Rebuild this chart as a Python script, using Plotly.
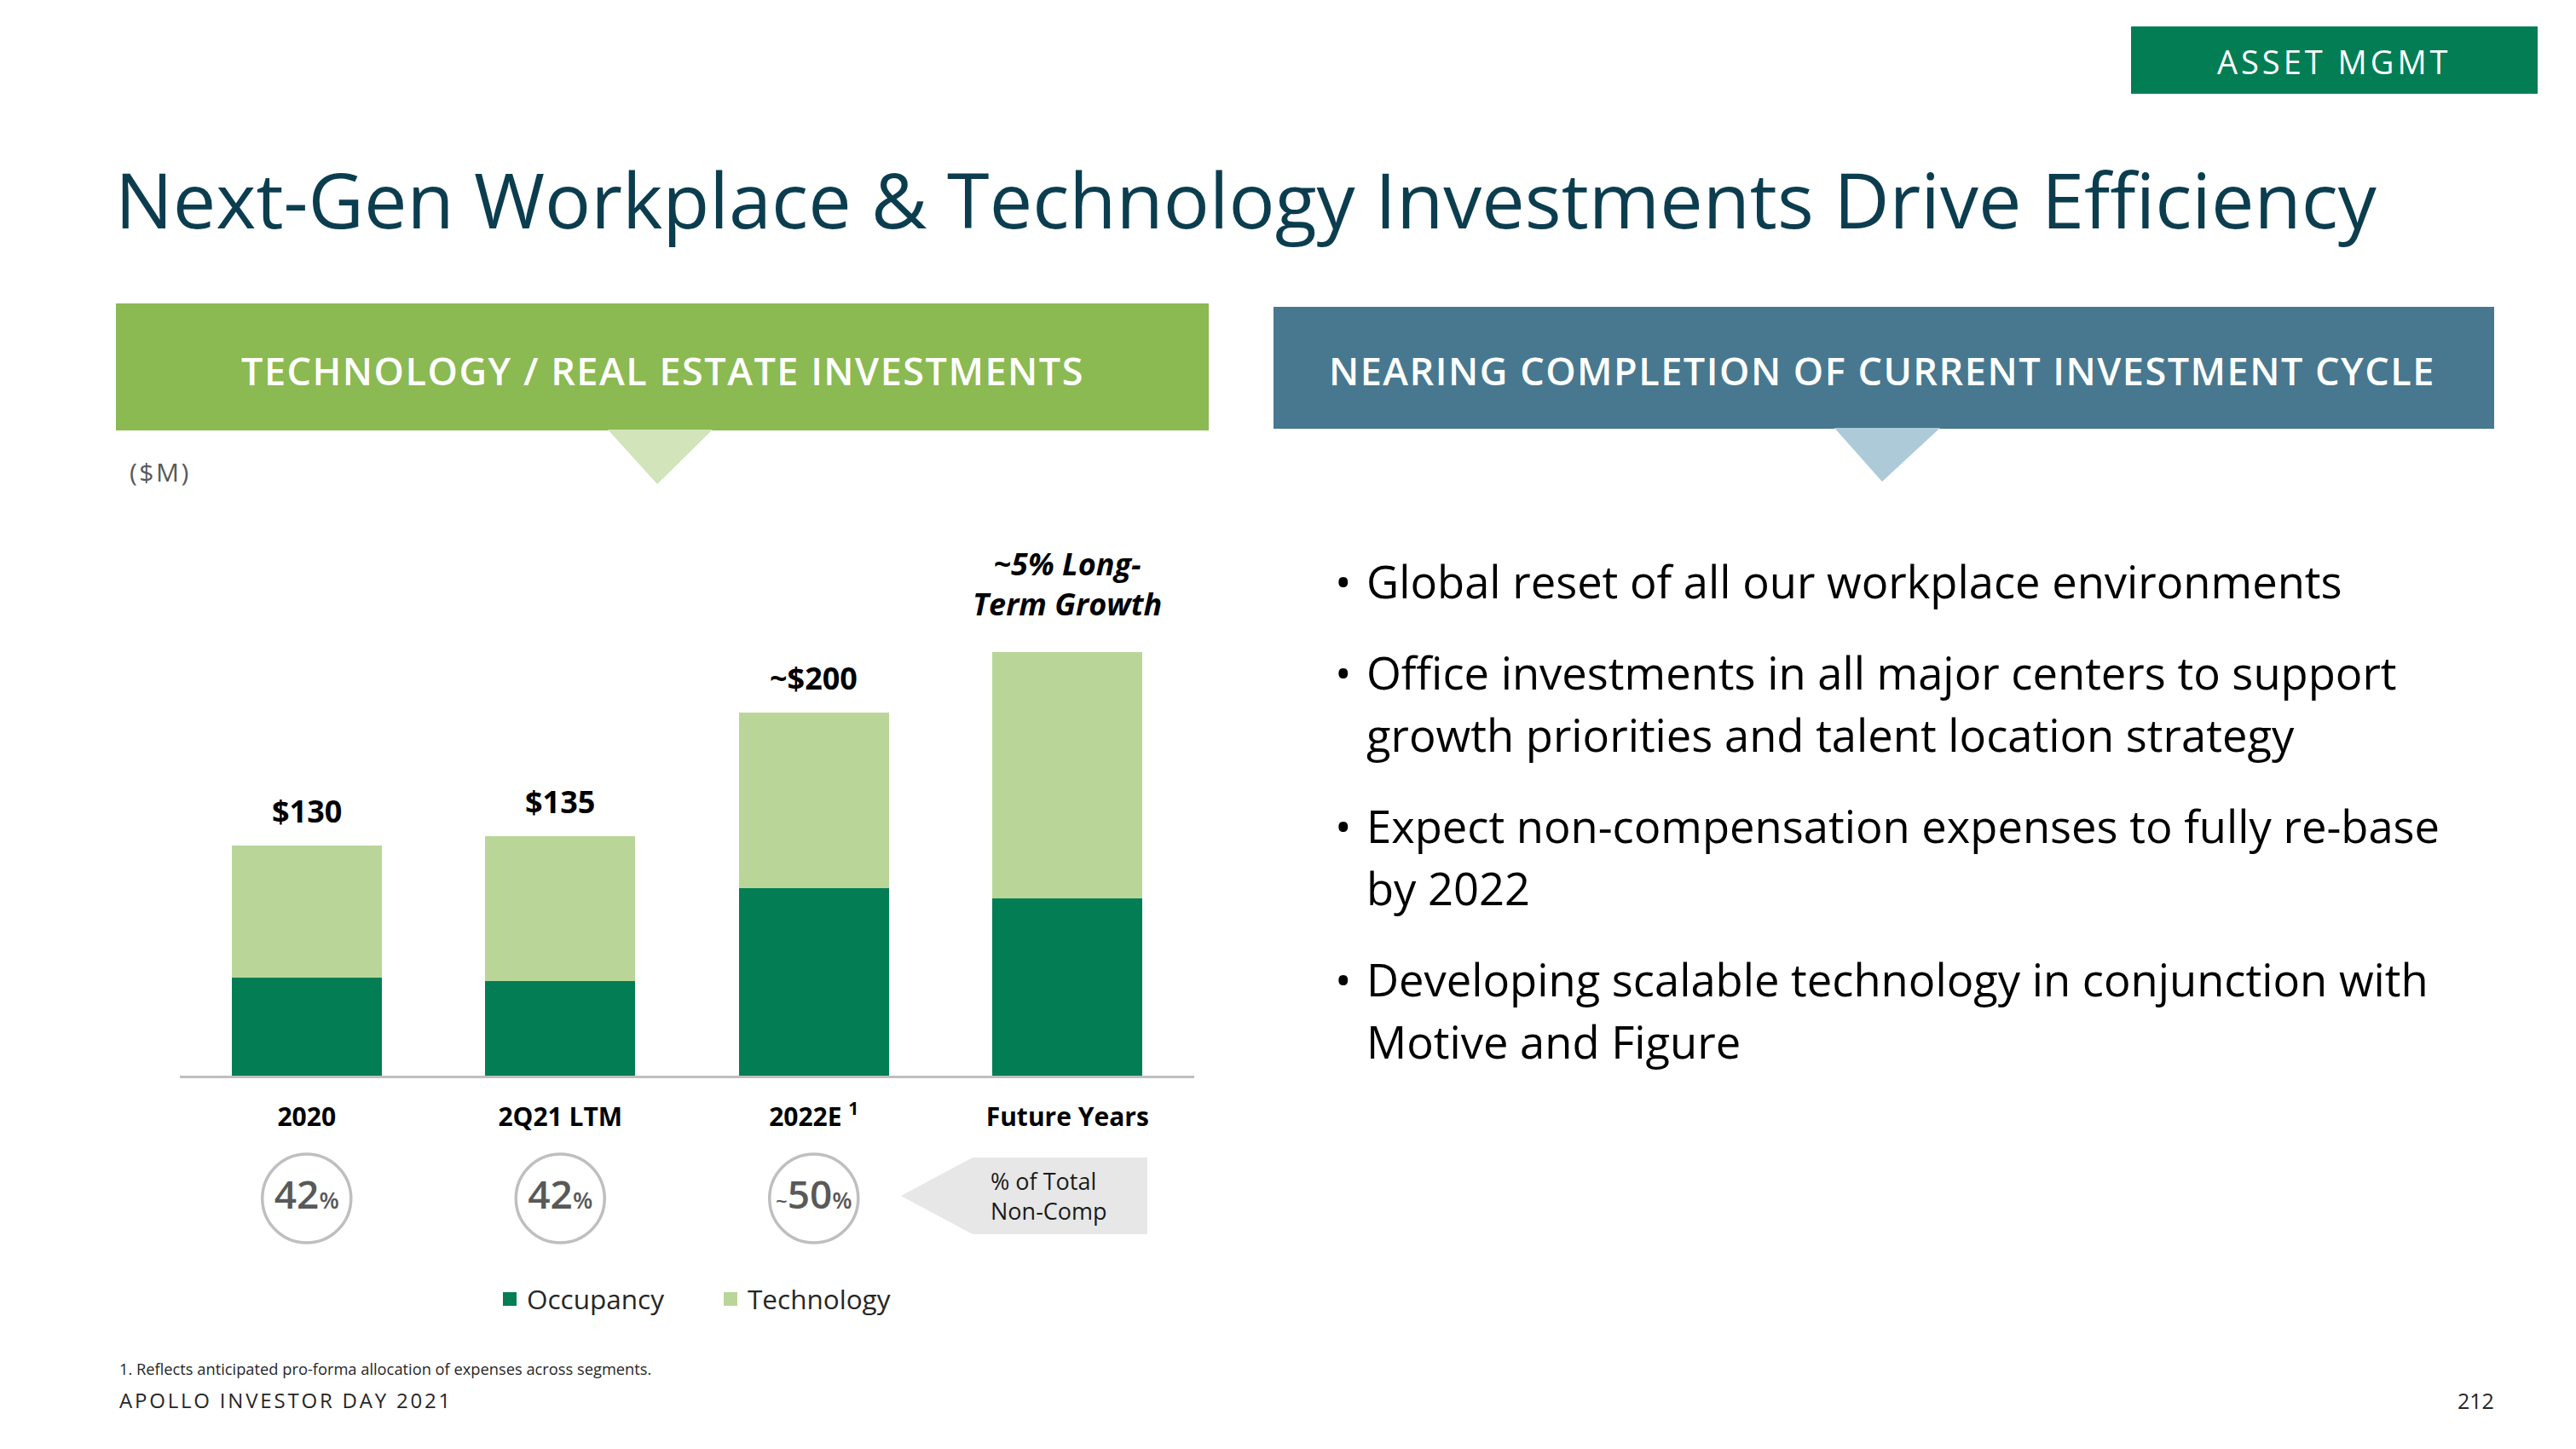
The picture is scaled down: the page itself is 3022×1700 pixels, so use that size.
import plotly.graph_objects as go

W, H = 3022, 1700
FONT = "Open Sans, Noto Sans, sans-serif"

# chart data
categories = ['2020', '2Q21 LTM', '2022E', 'Future Years']
category_labels = ['2020', '2Q21 LTM', '2022E <sup>1</sup>', 'Future Years']
occupancy = [55.5, 53.5, 106, 100]
technology = [74.5, 81.5, 99, 139]
total_labels = ['$130', '$135', '~$200', '<i>~5% Long-<br>Term Growth</i>']
noncomp_pct = [42, 42, 50]
noncomp_prefix = ['', '', '~']

bullets = [
    ['Global reset of all our workplace environments'],
    ['Office investments in all major centers to support',
     'growth priorities and talent location strategy'],
    ['Expect non-compensation expenses to fully re-base', 'by 2022'],
    ['Developing scalable technology in conjunction with', 'Motive and Figure'],
]

DARK_GREEN = '#037E54'
LIGHT_GREEN = '#B9D698'


def px(x):
    return x / W


def py(y):
    return 1 - y / H


def spaced(text, ls):
    return f"<span style='letter-spacing:{ls}px'>{text}</span>"


fig = go.Figure()
fig.add_trace(go.Bar(name='Occupancy', x=categories, y=occupancy, width=0.59, showlegend=False,
                     marker=dict(color=DARK_GREEN, line=dict(width=0))))
fig.add_trace(go.Bar(name='Technology', x=categories, y=technology, width=0.59, showlegend=False,
                     marker=dict(color=LIGHT_GREEN, line=dict(width=0))))

# legend entries with larger square keys than the bar default
for name, col in [('Occupancy', DARK_GREEN), ('Technology', LIGHT_GREEN)]:
    fig.add_trace(go.Scatter(x=[None], y=[None], mode='markers', name=name,
                             marker=dict(symbol='square', size=19, color=col)))

# % of total non-comp circles
pct_text = [(f"<span style='font-size:24px'>{p}</span>" if p else '') +
            f"{v}<span style='font-size:27px'>%</span>"
            for p, v in zip(noncomp_prefix, noncomp_pct)]
fig.add_trace(go.Scatter(
    x=categories[:3], y=[0.5] * 3, yaxis='y2', mode='markers+text', cliponaxis=False,
    marker=dict(size=104, color='white', line=dict(color='#BFBFBF', width=3.5)),
    text=pct_text, textposition='middle center',
    textfont=dict(family=FONT, size=46, color='#595959', weight=600),
    showlegend=False, hoverinfo='skip'))

annotations = []
# totals above bars (x given as category index so '2020' is not read as a number)
for i in range(len(categories)):
    multi = '<br>' in total_labels[i]
    annotations.append(dict(
        x=i, y=occupancy[i] + technology[i], xref='x', yref='y',
        text=f'<b>{total_labels[i]}</b>', showarrow=False, yanchor='bottom',
        yshift=30 if multi else 14, font=dict(size=36, color='#000')))

# page text
annotations += [
    dict(x=px(133), y=py(233), text='Next-Gen Workplace & Technology Investments Drive Efficiency',
         xanchor='left', font=dict(size=90, color='#0B3D4F')),
    dict(x=px(2738), y=py(72), text=spaced('ASSET MGMT', 4), font=dict(size=38, color='white')),
    dict(x=px(777), y=py(435), text=spaced('TECHNOLOGY / REAL ESTATE INVESTMENTS', 1.5),
         font=dict(size=45, color='white', weight=600)),
    dict(x=px(2208), y=py(434), text=spaced('NEARING COMPLETION OF CURRENT INVESTMENT CYCLE', 1.5),
         font=dict(size=45, color='white', weight=600)),
    dict(x=px(150), y=py(553), text=spaced('($M)', 2.5), xanchor='left', font=dict(size=30, color='#595959')),
    dict(x=px(1160), y=py(1403), text='% of Total<br>Non-Comp', xanchor='left', align='left',
         font=dict(size=27, color='#1A1A1A')),
    dict(x=px(138), y=py(1605), text='1. Reflects anticipated pro-forma allocation of expenses across segments.',
         xanchor='left', font=dict(size=18.3, color='#262626')),
    dict(x=px(138), y=py(1642), text=spaced('APOLLO INVESTOR DAY 2021', 2.8), xanchor='left',
         font=dict(size=24, color='#262626')),
    dict(x=px(2928), y=py(1643), text='212', xanchor='right', font=dict(size=25, color='#262626')),
]

# bullets
base = 700
for lines in bullets:
    annotations.append(dict(x=px(1576), y=py(base - 19), text='•', font=dict(size=52, color='#000')))
    for j, line in enumerate(lines):
        annotations.append(dict(x=px(1601), y=py(base + 73 * j - 19), text=line, xanchor='left',
                                font=dict(size=52.5, color='#000')))
    base += 73 * (len(lines) - 1) + 107

for a in annotations:
    a.setdefault('showarrow', False)
    a.setdefault('xref', 'paper')
    a.setdefault('yref', 'paper')
    a.setdefault('yanchor', 'middle')
    a.setdefault('xanchor', 'center')


def poly(pts):
    return 'M ' + ' L '.join(f'{px(x)},{py(y)}' for x, y in pts) + ' Z'


shapes = [
    dict(type='rect', x0=px(2500), x1=px(2977), y0=py(110), y1=py(31), fillcolor=DARK_GREEN),
    dict(type='rect', x0=px(136), x1=px(1418), y0=py(505), y1=py(356), fillcolor='#8BB952'),
    dict(type='path', path=poly([(713, 504), (836, 504), (771, 568)]), fillcolor='#D1E4BA'),
    dict(type='rect', x0=px(1494), x1=px(2926), y0=py(503), y1=py(360), fillcolor='#47788F'),
    dict(type='path', path=poly([(2152, 502), (2276, 502), (2208, 565)]), fillcolor='#ADCAD8'),
    dict(type='path', path=poly([(1057, 1403), (1141, 1358), (1346, 1358), (1346, 1448), (1141, 1448)]),
         fillcolor='#E7E7E7'),
]
for s in shapes:
    s.update(xref='paper', yref='paper', line=dict(width=0), layer='below')

fig.update_layout(
    width=W, height=H, margin=dict(l=0, r=0, t=0, b=0),
    paper_bgcolor='white', plot_bgcolor='rgba(0,0,0,0)',
    font=dict(family=FONT, color='#000'),
    barmode='stack',
    xaxis=dict(domain=[px(211), px(1401)], range=[-0.5, 3.5], type='category',
               showline=True, linecolor='#BFBFBF', linewidth=3, ticks='',
               tickvals=categories, ticktext=category_labels, ticklabelstandoff=20,
               tickfont=dict(size=30, color='#000', weight='bold'),
               showgrid=False, zeroline=False, fixedrange=True),
    yaxis=dict(domain=[py(1262), py(742)], range=[0, 250], visible=False, fixedrange=True),
    yaxis2=dict(domain=[py(1456), py(1356)], range=[0, 1], visible=False, anchor='x', fixedrange=True),
    legend=dict(orientation='h', x=px(578), xanchor='left', y=py(1524), yanchor='middle',
                font=dict(size=31.5, color='#262626'), entrywidth=214, traceorder='normal',
                itemsizing='trace', bgcolor='rgba(0,0,0,0)'),
    annotations=annotations,
    shapes=shapes,
)

fig.write_html('out.html', config={'displayModeBar': False},
               post_script="document.body.style.margin='0';")
